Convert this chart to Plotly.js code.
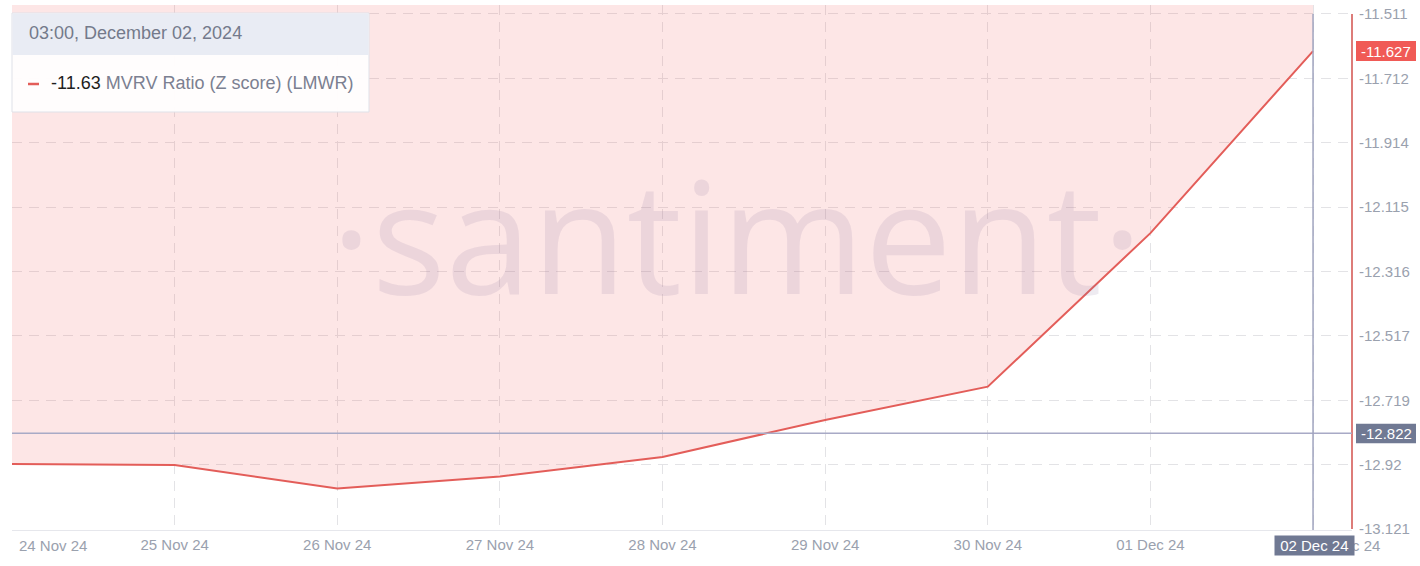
<!DOCTYPE html>
<html>
<head>
<meta charset="utf-8">
<script src="https://cdn.plot.ly/plotly-3.0.1.min.js"></script>
<style>html,body{margin:0;padding:0;background:#fff;}#chart{width:1420px;height:566px;}</style>
</head>
<body>
<div id="chart"></div>
<script>
// ---- data ----
const dates = ['2024-11-24','2024-11-25','2024-11-26','2024-11-27','2024-11-28','2024-11-29','2024-11-30','2024-12-01','2024-12-02'];
const mvrv = [-12.918, -12.921, -12.994, -12.957, -12.896, -12.780, -12.676, -12.196, -11.627];
const xLabels = ['24 Nov 24','25 Nov 24','26 Nov 24','27 Nov 24','28 Nov 24','29 Nov 24','30 Nov 24','01 Dec 24','02 Dec 24'];
const yTicks = [-11.511, -11.712, -11.914, -12.115, -12.316, -12.517, -12.719, -12.92, -13.121];
const yTickText = ['-11.511','-11.712','-11.914','-12.115','-12.316','-12.517','-12.719','-12.92','-13.121'];
const crossValue = -12.822;
const crossLabel = '-12.822';
const lastLabel = '-11.627';
const tipHeader = '03:00, December 02, 2024';
const tipValue = '-11.63';
const tipName = 'MVRV Ratio (Z score) (LMWR)';
const watermark = '·santiment·';

// ---- layout geometry helpers (pixel -> paper) ----
const W = 1420, H = 566, L = 12, R = 68, T = 5, B = 36;
const pw = W - L - R, ph = H - T - B;
const px = x => (x - L) / pw;
const py = y => (H - B - y) / ph;

const yRange = [-13.1241, -11.4829];
const xRange = ['2024-11-24 00:00', '2024-12-02 05:45'];
const lastIdx = dates.length - 1;
const lastDate = dates[lastIdx];
const lastVal = mvrv[lastIdx];

const FONT = 'Liberation Sans, Arial, sans-serif';
const tickFont = {family: FONT, size: 15, color: '#9aa1ae'};
const mainText = xLabels.map((t, i) => (i === 0 || i === lastIdx) ? '' : t);

const trace = {
  x: dates, y: mvrv, type: 'scatter', mode: 'lines',
  line: {color: '#e35d59', width: 2},
  fill: 'tozeroy', fillcolor: 'rgba(240,90,85,0.15)',
  hoverinfo: 'skip', showlegend: false
};

const layout = {
  width: W, height: H,
  margin: {l: L, r: R, t: T, b: B},
  paper_bgcolor: '#ffffff', plot_bgcolor: '#ffffff',
  showlegend: false, hovermode: false,
  font: {family: FONT},
  xaxis: {
    type: 'date', range: xRange, tickvals: dates, ticktext: mainText,
    showgrid: true, gridcolor: '#e3e3e6', griddash: '10px,7px', gridwidth: 1,
    showline: true, linecolor: '#e6e7ec', linewidth: 1,
    zeroline: false, ticks: '', tickfont: tickFont, ticklabelstandoff: 1, fixedrange: true
  },
  yaxis: {
    side: 'right', range: yRange, tickvals: yTicks, ticktext: yTickText,
    showgrid: true, gridcolor: '#e3e3e6', griddash: '10px,7px', gridwidth: 1,
    showline: false, zeroline: false, ticks: '', tickfont: tickFont, ticklabelstandoff: 6, fixedrange: true
  },
  shapes: [
    // red right axis line
    {type: 'line', layer: 'above', xref: 'paper', x0: 1, x1: 1, yref: 'y', y0: yTicks[0], y1: yTicks[yTicks.length - 1],
     line: {color: '#dd7c79', width: 2}},
    // crosshair horizontal
    {type: 'line', layer: 'above', xref: 'paper', x0: 0, x1: 1, yref: 'y', y0: crossValue, y1: crossValue,
     line: {color: '#a8aac6', width: 1.5}},
    // crosshair vertical
    {type: 'line', layer: 'above', xref: 'x', x0: lastDate, x1: lastDate, yref: 'y', y0: yTicks[0], y1: yRange[0],
     line: {color: '#a0a4bf', width: 1.5}},
    // red value box
    {type: 'rect', layer: 'above', xref: 'paper', xsizemode: 'pixel', xanchor: 1, x0: 4, x1: 64,
     yref: 'y', ysizemode: 'pixel', yanchor: lastVal, y0: -10, y1: 10,
     fillcolor: '#f05a56', line: {width: 0}},
    // gray crosshair value box
    {type: 'rect', layer: 'above', xref: 'paper', xsizemode: 'pixel', xanchor: 1, x0: 4, x1: 64,
     yref: 'y', ysizemode: 'pixel', yanchor: crossValue, y0: -10, y1: 9.5,
     fillcolor: '#707993', line: {width: 0}},
    // tooltip box
    {type: 'rect', layer: 'above', xref: 'paper', yref: 'paper', x0: px(12), x1: px(369), y0: py(13), y1: py(112),
     fillcolor: 'rgba(255,253,253,0.97)', line: {color: '#dfe1e8', width: 1}},
    {type: 'rect', layer: 'above', xref: 'paper', yref: 'paper', x0: px(12.5), x1: px(368.5), y0: py(13.5), y1: py(55),
     fillcolor: '#e9ecf4', line: {width: 0}},
    // red dash in tooltip
    {type: 'line', layer: 'above', xref: 'paper', yref: 'paper', x0: px(28), x1: px(39), y0: py(84), y1: py(84),
     line: {color: '#e35d59', width: 2.5}}
  ],
  annotations: [
    {text: watermark, xref: 'paper', yref: 'paper', x: px(737), y: py(233), xanchor: 'center', yanchor: 'middle',
     showarrow: false, font: {family: 'Open Sans, sans-serif', size: 155, color: 'rgba(140,120,160,0.15)'}},
    // first and last x labels (offset like the reference)
    {text: xLabels[0], xref: 'x', x: dates[0], xshift: 5, yref: 'paper', y: 0, yshift: -15,
     xanchor: 'left', yanchor: 'middle', showarrow: false, font: tickFont},
    {text: xLabels[lastIdx], xref: 'x', x: lastDate, xshift: -3, yref: 'paper', y: 0, yshift: -15,
     xanchor: 'left', yanchor: 'middle', showarrow: false, font: tickFont},
    // crosshair date box
    {text: '&nbsp;' + xLabels[lastIdx] + '&nbsp;', xref: 'x', x: lastDate, xshift: 1.5, yref: 'paper', y: 0, yshift: -15.5,
     xanchor: 'center', yanchor: 'middle', showarrow: false, bgcolor: '#707993', borderpad: 1,
     font: {family: FONT, size: 15, color: '#ffffff'}},
    {text: lastLabel, xref: 'paper', x: 1, xshift: 34, yref: 'y', y: lastVal, xanchor: 'center', yanchor: 'middle',
     showarrow: false, font: {family: FONT, size: 15, color: '#ffffff'}},
    {text: crossLabel, xref: 'paper', x: 1, xshift: 34, yref: 'y', y: crossValue, yshift: -0.5, xanchor: 'center', yanchor: 'middle',
     showarrow: false, font: {family: FONT, size: 15, color: '#ffffff'}},
    {text: tipHeader, xref: 'paper', yref: 'paper', x: px(27), y: py(33), xanchor: 'left', yanchor: 'middle',
     showarrow: false, font: {family: FONT, size: 18, color: '#747a8b'}},
    {text: '<span style="color:#1e1e1e">' + tipValue + '</span> ' + tipName, xref: 'paper', yref: 'paper',
     x: px(49), y: py(83), xanchor: 'left', yanchor: 'middle',
     showarrow: false, font: {family: FONT, size: 18, color: '#7b8091'}}
  ]
};

Plotly.newPlot('chart', [trace], layout, {displayModeBar: false, staticPlot: true});
</script>
</body>
</html>
